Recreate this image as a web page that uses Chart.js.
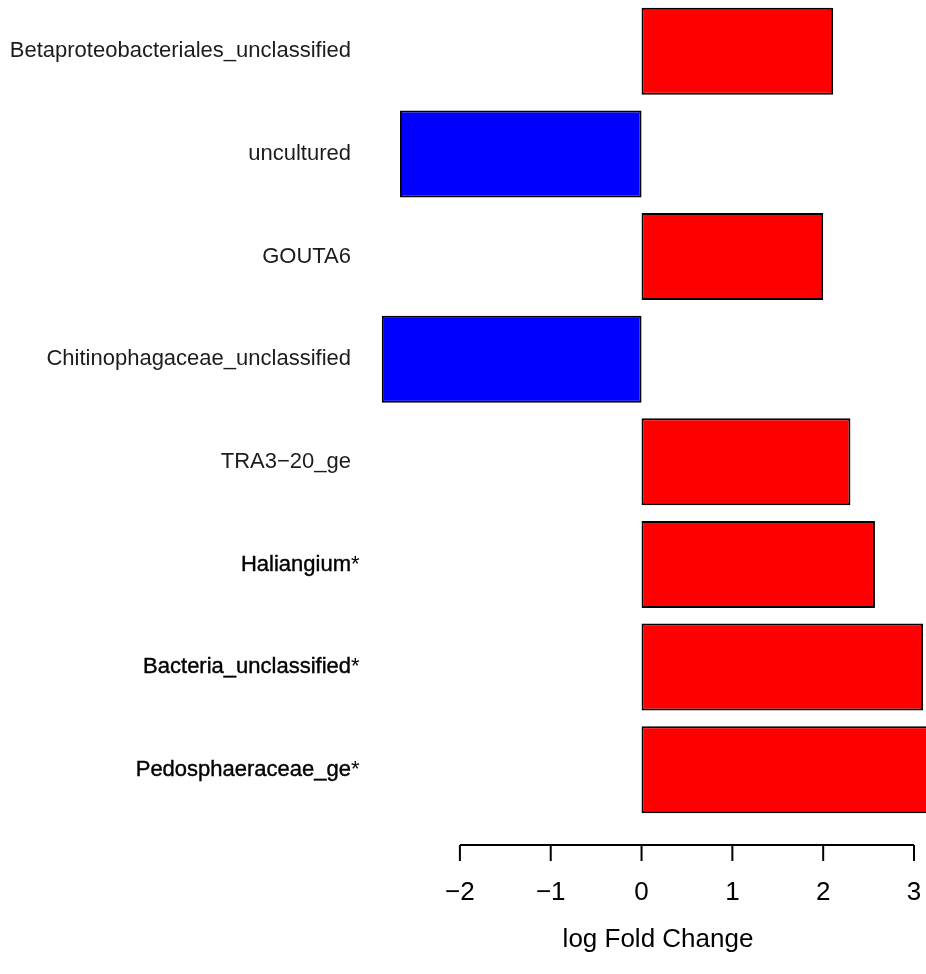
<!DOCTYPE html>
<html>
<head>
<meta charset="utf-8">
<script src="https://cdn.jsdelivr.net/npm/chart.js@4/dist/chart.umd.min.js"></script>
<style>
  body { margin: 0; background: #fff; }
  #wrap { width: 926px; height: 974px; }
</style>
</head>
<body>
<div id="wrap"><canvas id="chart" width="926" height="974"></canvas></div>
<script>
// Taxa, top to bottom (names ending in * are significant)
const taxa = [
    'Betaproteobacteriales_unclassified',
    'uncultured',
    'GOUTA6',
    'Chitinophagaceae_unclassified',
    'TRA3\u221220_ge',
    'Haliangium*',
    'Bacteria_unclassified*',
    'Pedosphaeraceae_ge*'
];
// log fold change per taxon
const logFC = [2.11, -2.66, 2.00, -2.86, 2.30, 2.57, 3.10, 3.35];
// axis ticks drawn under the bars
const xTicks = [-2, -1, 0, 1, 2, 3];
const xTitle = 'log Fold Change';

const FONT = '"Liberation Sans", Arial, Helvetica, sans-serif';

// Draws the R-style bottom axis and the left labels
const rAxes = {
    id: 'rAxes',
    afterDraw(chart) {
        const ctx = chart.ctx;
        const xs = chart.scales.x;
        const ys = chart.scales.y;
        const area = chart.chartArea;
        ctx.save();

        // category labels
        ctx.font = '22px ' + FONT;
        ctx.textBaseline = 'middle';
        const labelRight = 351;
        taxa.forEach((name, i) => {
            const y = ys.getPixelForValue(i);
            const star = name.endsWith('*');
            const base = star ? name.slice(0, -1) : name;
            ctx.fillStyle = star ? '#000' : '#1c1c1c';
            ctx.textAlign = 'right';
            ctx.fillText(base, labelRight, y);
            if (star) {
                ctx.strokeStyle = '#000';
                ctx.lineWidth = 0.4;
                ctx.strokeText(base, labelRight, y);
                ctx.textAlign = 'left';
                ctx.fillText('*', labelRight, y);
            }
        });

        // x axis line and ticks
        const axisY = area.bottom + 24;
        const x0 = xs.getPixelForValue(xTicks[0]);
        const x1 = xs.getPixelForValue(xTicks[xTicks.length - 1]);
        ctx.strokeStyle = '#000';
        ctx.lineWidth = 2;
        ctx.beginPath();
        ctx.moveTo(x0, axisY);
        ctx.lineTo(x1, axisY);
        xTicks.forEach(t => {
            const x = xs.getPixelForValue(t);
            ctx.moveTo(x, axisY);
            ctx.lineTo(x, axisY + 16);
        });
        ctx.stroke();

        ctx.fillStyle = '#000';
        ctx.font = '26px ' + FONT;
        ctx.textAlign = 'center';
        ctx.textBaseline = 'middle';
        xTicks.forEach(t => {
            const txt = t < 0 ? '\u2212' + Math.abs(t) : String(t);
            ctx.fillText(txt, xs.getPixelForValue(t), axisY + 48);
        });

        // axis title
        ctx.fillText(xTitle, 658, axisY + 95);
        ctx.restore();
    }
};

const ctx = document.getElementById('chart').getContext('2d');
new Chart(ctx, {
    type: 'bar',
    data: {
        labels: taxa,
        datasets: [{
            data: logFC,
            backgroundColor: logFC.map(v => v < 0 ? '#0000ff' : '#ff0000'),
            borderColor: '#000',
            borderWidth: 2,
            borderSkipped: false,
            categoryPercentage: 1,
            barPercentage: 0.847
        }]
    },
    options: {
        indexAxis: 'y',
        responsive: false,
        animation: false,
        layout: { padding: { left: 360, right: 0, top: 0, bottom: 153 } },
        plugins: {
            legend: { display: false },
            tooltip: { enabled: false }
        },
        scales: {
            x: { display: false, min: -3.1, max: 3.132 },
            y: { display: false }
        }
    },
    plugins: [rAxes]
});
</script>
</body>
</html>
